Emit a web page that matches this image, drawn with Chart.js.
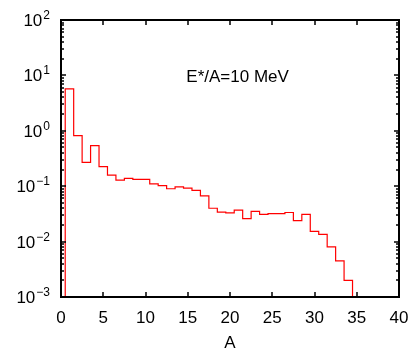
<!DOCTYPE html>
<html>
<head>
<meta charset="utf-8">
<script src="https://cdn.jsdelivr.net/npm/chart.js@4/dist/chart.umd.min.js"></script>
<style>
  html, body { margin: 0; padding: 0; background: #fff; }
  #wrap { width: 408px; height: 352px; }
</style>
</head>
<body>
<div id="wrap"><canvas id="chart"></canvas></div>
<script>
// fragment mass number A (bin centres) and yield per bin
// (1e-4 = empty / below the plotted range)
const massNumbers = [0, 1, 2, 3, 4, 5, 6, 7, 8, 9, 10, 11, 12, 13, 14, 15, 16, 17,
    18, 19, 20, 21, 22, 23, 24, 25, 26, 27, 28, 29, 30, 31, 32, 33, 34, 35];
const yields = [1e-4, 5.7, 0.82, 0.27, 0.54, 0.225, 0.159, 0.129, 0.139, 0.133, 0.133,
    0.110, 0.102, 0.090, 0.097, 0.092, 0.084, 0.067, 0.040, 0.034, 0.033, 0.037,
    0.026, 0.035, 0.031, 0.032, 0.032, 0.0335, 0.024, 0.031, 0.0153, 0.0135,
    0.0080, 0.0045, 0.0020, 1e-4];

const xTicks = [0, 5, 10, 15, 20, 25, 30, 35, 40];
const yDecades = [-3, -2, -1, 0, 1, 2];
const annotation = "E*/A=10 MeV";

const FONT = "Liberation Sans, Arial, Helvetica, sans-serif";

// frame, inward tick marks, 10^n labels and the text label
const framePlugin = {
    id: "frame",
    afterDraw(chart) {
        const { ctx, chartArea: a } = chart;
        const xs = chart.scales.x, ys = chart.scales.y;
        ctx.save();
        ctx.strokeStyle = "#000";
        ctx.lineWidth = 2;
        ctx.strokeRect(a.left, a.top, a.right - a.left, a.bottom - a.top);

        ctx.beginPath();
        xTicks.forEach(v => {
            const px = Math.round(xs.getPixelForValue(v));
            ctx.moveTo(px, a.bottom); ctx.lineTo(px, a.bottom - 5);
            ctx.moveTo(px, a.top); ctx.lineTo(px, a.top + 5);
        });
        yDecades.forEach(d => {
            for (let m = 1; m <= 9; m++) {
                const v = m * Math.pow(10, d);
                if (v > ys.max * 1.0001) break;
                const py = Math.round(ys.getPixelForValue(v));
                const len = m === 1 ? 5 : 3;
                ctx.moveTo(a.left, py); ctx.lineTo(a.left + len, py);
                ctx.moveTo(a.right, py); ctx.lineTo(a.right - len, py);
            }
        });
        ctx.lineWidth = 1.5;
        ctx.stroke();

        // y labels as 10 with a raised exponent
        ctx.fillStyle = "#000";
        ctx.textBaseline = "alphabetic";
        ctx.textAlign = "left";
        yDecades.forEach(d => {
            const py = ys.getPixelForValue(Math.pow(10, d));
            const exp = d < 0 ? "\u2212" + (-d) : String(d);
            ctx.font = "12px " + FONT;
            const ew = ctx.measureText(exp).width;
            ctx.font = "17px " + FONT;
            const bw = ctx.measureText("10").width;
            const right = a.left - 11;
            ctx.fillText("10", right - ew - 1 - bw, py + 6);
            ctx.font = "12px " + FONT;
            ctx.fillText(exp, right - ew, py - 1);
        });

        ctx.font = "17px " + FONT;
        ctx.textAlign = "center";
        ctx.textBaseline = "middle";
        ctx.fillText(annotation, xs.getPixelForValue(20.9), ys.getPixelForValue(9.3));
        ctx.restore();
    }
};

const chart = new Chart(document.getElementById("chart"), {
    type: "line",
    data: {
        datasets: [{
            data: massNumbers.map((a, i) => ({ x: a, y: yields[i] })),
            borderColor: "#ff0000",
            borderWidth: 1.2,
            stepped: "middle",
            pointRadius: 0,
            fill: false,
            clip: 0
        }]
    },
    options: {
        responsive: true,
        maintainAspectRatio: false,
        animation: false,
        layout: { padding: { top: 20, left: 0, right: 0, bottom: 0 } },
        plugins: { legend: { display: false }, tooltip: { enabled: false } },
        scales: {
            x: {
                type: "linear",
                min: 0,
                max: 40,
                grid: { display: false, drawTicks: false },
                border: { display: false },
                ticks: {
                    stepSize: 5,
                    color: "#000",
                    padding: 11,
                    maxRotation: 0,
                    font: { family: FONT, size: 17 }
                },
                title: {
                    display: true,
                    text: "A",
                    color: "#000",
                    padding: { top: 0, bottom: -2 },
                    font: { family: FONT, size: 17 }
                },
                afterFit: s => { s.height = 55; s.paddingRight = 9; s.paddingLeft = 0; }
            },
            y: {
                type: "logarithmic",
                min: 1e-3,
                max: 1e2,
                grid: { display: false, drawTicks: false },
                border: { display: false },
                ticks: { display: false },
                afterFit: s => { s.width = 61; }
            }
        }
    },
    plugins: [framePlugin]
});
</script>
</body>
</html>
